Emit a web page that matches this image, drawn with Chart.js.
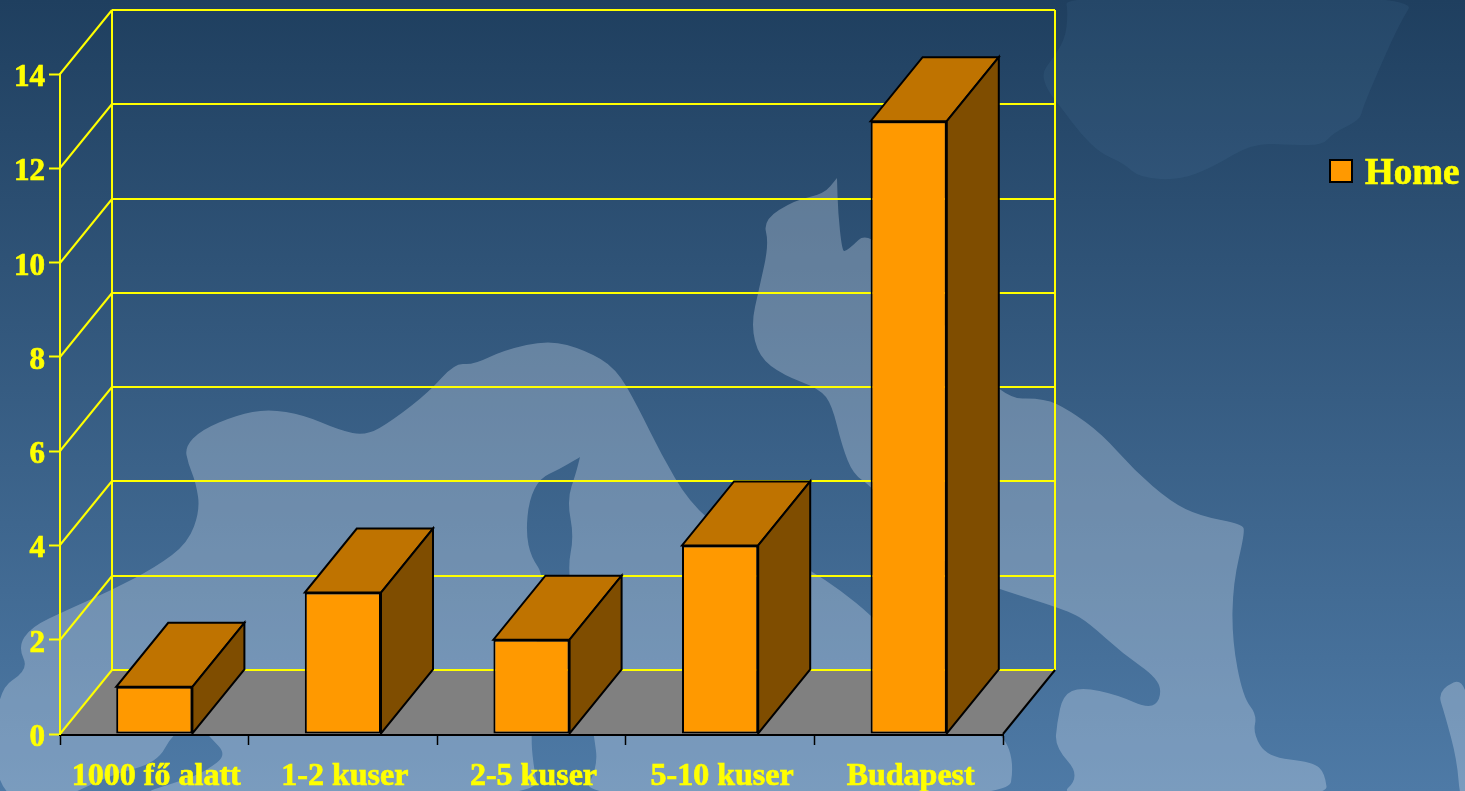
<!DOCTYPE html>
<html lang="hu">
<head>
<meta charset="utf-8">
<title>Home</title>
<style>
  html, body { margin: 0; padding: 0; width: 1465px; height: 791px; overflow: hidden; }
  body { background: linear-gradient(to bottom, #1f3f5f 0%, #4e7aa6 100%); }
  canvas { display: block; }
</style>
<script src="https://cdn.jsdelivr.net/npm/chart.js@4/dist/chart.umd.min.js"></script>
</head>
<body>
<canvas id="chart" width="1465" height="791"></canvas>
<script>
const categories = ['1000 fő alatt', '1-2 kuser', '2-5 kuser', '5-10 kuser', 'Budapest'];
const seriesName = 'Home';
const seriesValues = [1, 3, 2, 4, 13];
const axisMax = 14;
const axisStep = 2;

const YELLOW = '#ffff00';
const FRONT = '#ff9900';
const TOP_FACE = '#bf7300';
const SIDE_FACE = '#7f4d00';
const FLOOR = '#808080';
const DEPTH_X = 52;
const DEPTH_Y = -64;

// Decorative map behind the plot: coastlines in page pixels.
const mainland = [
  [-5,691],[29,670],[18,647],[31,627],[67,610],[112,590],[156,567],[188,543],[200,510],[196,483],
  [188,463],[185,447],[201,430],[237,415],[268,409],[304,415],[339,430],[366,436],[393,420],[429,392],
  [455,363],[473,365],[504,350],[549,340],[585,350],[616,368],[638,407],[661,454],[689,502],[726,534],
  [780,555],[810,570],[840,590],[871,615],[910,655],[960,700],[1004,735],[1014,764],[1008,800],
  [580,800],[598,767],[594,735],[580,650],[567,570],[574,537],[567,500],[576,473],[580,457],[580,457],[558,470],
  [540,478],[529,500],[526,533],[531,557],[545,577],[535,650],[531,735],[533,763],[540,800],
  [120,800],[190,778],[207,770],[227,755],[210,737],[196,722],[173,733],[157,763],[110,775],[60,800],[-5,800]
];
const easternLand = [
  [837,178],[837,178],[824,194],[795,200],[763,220],[769,244],[759,289],[751,325],[759,357],[783,375],[820,389],
  [832,405],[842,446],[853,474],[871,486],[920,540],[960,575],[1002,590],[1069,611],[1089,623],[1122,653],
  [1159,679],[1161,699],[1149,709],[1118,695],[1081,687],[1063,695],[1057,723],[1055,747],[1081,776],[1055,800],
  [1328,800],[1325,773],[1313,762],[1267,757],[1253,733],[1257,715],[1243,697],[1232,640],[1233,583],[1245,532],
  [1242,524],[1200,516],[1171,502],[1134,470],[1102,434],[1069,410],[1044,398],[1002,399],[940,320],[871,228],
  [846,252],[842,250],[838,212]
];
const farEastLand = [[1470,675],[1437,690],[1445,715],[1457,760],[1460,800],[1470,800]];
const northernLand = [
  [1065,-5],[1068,13],[1065,40],[1050,62],[1042,73],[1047,90],[1063,110],[1080,133],[1100,153],[1123,163],
  [1140,178],[1180,180],[1213,167],[1253,143],[1293,145],[1323,145],[1333,133],[1360,120],[1363,107],
  [1383,60],[1400,23],[1417,-5]
];

function traceCoast(ctx, pts) {
  ctx.beginPath();
  const mid = (a, b) => [(a[0] + b[0]) / 2, (a[1] + b[1]) / 2];
  const start = mid(pts[pts.length - 1], pts[0]);
  ctx.moveTo(start[0], start[1]);
  pts.forEach((p, i) => {
    const m = mid(p, pts[(i + 1) % pts.length]);
    ctx.quadraticCurveTo(p[0], p[1], m[0], m[1]);
  });
  ctx.closePath();
}

const mapBackdrop = {
  id: 'mapBackdrop',
  beforeDraw(chart) {
    const ctx = chart.ctx;
    ctx.save();
    ctx.fillStyle = 'rgba(238,246,255,0.28)';
    [mainland, easternLand, farEastLand].forEach(shape => { traceCoast(ctx, shape); ctx.fill(); });
    ctx.fillStyle = 'rgba(130,180,230,0.07)';
    traceCoast(ctx, northernLand);
    ctx.fill();
    ctx.restore();
  }
};

function segment(ctx, x1, y1, x2, y2, color, width) {
  ctx.strokeStyle = color;
  ctx.lineWidth = width;
  ctx.beginPath();
  ctx.moveTo(x1, y1);
  ctx.lineTo(x2, y2);
  ctx.stroke();
}

function face(ctx, pts, fill) {
  ctx.beginPath();
  pts.forEach((p, i) => i ? ctx.lineTo(p[0], p[1]) : ctx.moveTo(p[0], p[1]));
  ctx.closePath();
  ctx.fillStyle = fill;
  ctx.fill();
  ctx.strokeStyle = '#000';
  ctx.lineWidth = 2;
  ctx.lineJoin = 'miter';
  ctx.stroke();
}

// Floor, back wall and the receding faces of each column.
const depthBox = {
  id: 'depthBox',
  beforeDatasetsDraw(chart) {
    const ctx = chart.ctx;
    const { left, right, top, bottom } = chart.chartArea;
    const yScale = chart.scales.y;
    const backLeft = left + DEPTH_X;
    const backRight = right + DEPTH_X;
    ctx.save();

    ctx.beginPath();
    ctx.moveTo(left, bottom);
    ctx.lineTo(right, bottom);
    ctx.lineTo(backRight, bottom + DEPTH_Y);
    ctx.lineTo(backLeft, bottom + DEPTH_Y);
    ctx.closePath();
    ctx.fillStyle = FLOOR;
    ctx.fill();

    yScale.ticks.forEach(tick => {
      const y = Math.round(yScale.getPixelForValue(tick.value));
      segment(ctx, left, y, backLeft, y + DEPTH_Y, YELLOW, 2);
      segment(ctx, backLeft, y + DEPTH_Y, backRight, y + DEPTH_Y, YELLOW, 2);
    });
    segment(ctx, backLeft, top + DEPTH_Y, backLeft, bottom + DEPTH_Y, YELLOW, 2);
    segment(ctx, backRight, top + DEPTH_Y, backRight, bottom + DEPTH_Y, YELLOW, 2);
    segment(ctx, right, bottom, backRight, bottom + DEPTH_Y, '#000', 2);

    chart.getDatasetMeta(0).data.forEach(bar => {
      const half = bar.width / 2;
      const x0 = bar.x - half, x1 = bar.x + half, yT = bar.y, yB = bar.base;
      face(ctx, [[x0, yT], [x1, yT], [x1 + DEPTH_X, yT + DEPTH_Y], [x0 + DEPTH_X, yT + DEPTH_Y]], TOP_FACE);
      face(ctx, [[x1, yT], [x1 + DEPTH_X, yT + DEPTH_Y], [x1 + DEPTH_X, yB + DEPTH_Y], [x1, yB]], SIDE_FACE);
    });
    ctx.restore();
  }
};

// Series key to the right of the plot.
const seriesKey = {
  id: 'seriesKey',
  afterDraw(chart) {
    const ctx = chart.ctx;
    const label = chart.data.datasets[0].label;
    ctx.save();
    ctx.fillStyle = FRONT;
    ctx.strokeStyle = '#000';
    ctx.lineWidth = 2;
    ctx.fillRect(1330, 160, 22, 22);
    ctx.strokeRect(1330, 160, 22, 22);
    ctx.fillStyle = YELLOW;
    ctx.strokeStyle = YELLOW;
    ctx.lineWidth = 0.7;
    ctx.font = 'bold 37px "Liberation Serif"';
    ctx.textBaseline = 'alphabetic';
    ctx.fillText(label, 1365, 184);
    ctx.strokeText(label, 1365, 184);
    ctx.restore();
  }
};

new Chart(document.getElementById('chart'), {
  type: 'bar',
  data: {
    labels: categories,
    datasets: [{
      label: seriesName,
      data: seriesValues,
      backgroundColor: FRONT,
      borderColor: '#000',
      borderWidth: 2,
      borderSkipped: false,
      barPercentage: 0.404,
      categoryPercentage: 1
    }]
  },
  options: {
    responsive: false,
    animation: false,
    layout: { padding: { top: 74, right: 462, bottom: 0, left: 0 } },
    plugins: { legend: { display: false }, tooltip: { enabled: false } },
    scales: {
      x: {
        z: 1,
        offset: true,
        afterFit(scale) { scale.height = 57; },
        grid: { drawOnChartArea: false, drawTicks: true, tickLength: 11, tickColor: '#000', tickWidth: 1.5, offset: true },
        border: { color: '#000', width: 3 },
        ticks: {
          color: YELLOW,
          font: { family: '"Liberation Serif"', weight: 'bold', size: 32 },
          padding: 13,
          labelOffset: 2,
          autoSkip: false,
          maxRotation: 0,
          textStrokeColor: YELLOW,
          textStrokeWidth: 0.7
        }
      },
      y: {
        z: 1,
        min: 0,
        max: axisMax,
        afterFit(scale) { scale.width = 60; },
        grid: { drawOnChartArea: false, drawTicks: true, tickLength: 11, tickColor: YELLOW, tickWidth: 2 },
        border: { color: YELLOW, width: 2 },
        ticks: {
          stepSize: axisStep,
          color: YELLOW,
          // a blank leading line, with tight leading, sets the digits just below the tick
          callback: value => ['', String(value)],
          font: { family: '"Liberation Serif"', weight: 'bold', size: 31, lineHeight: '8px' },
          padding: 4,
          textStrokeColor: YELLOW,
          textStrokeWidth: 0.7
        }
      }
    }
  },
  plugins: [mapBackdrop, depthBox, seriesKey]
});
</script>
</body>
</html>
